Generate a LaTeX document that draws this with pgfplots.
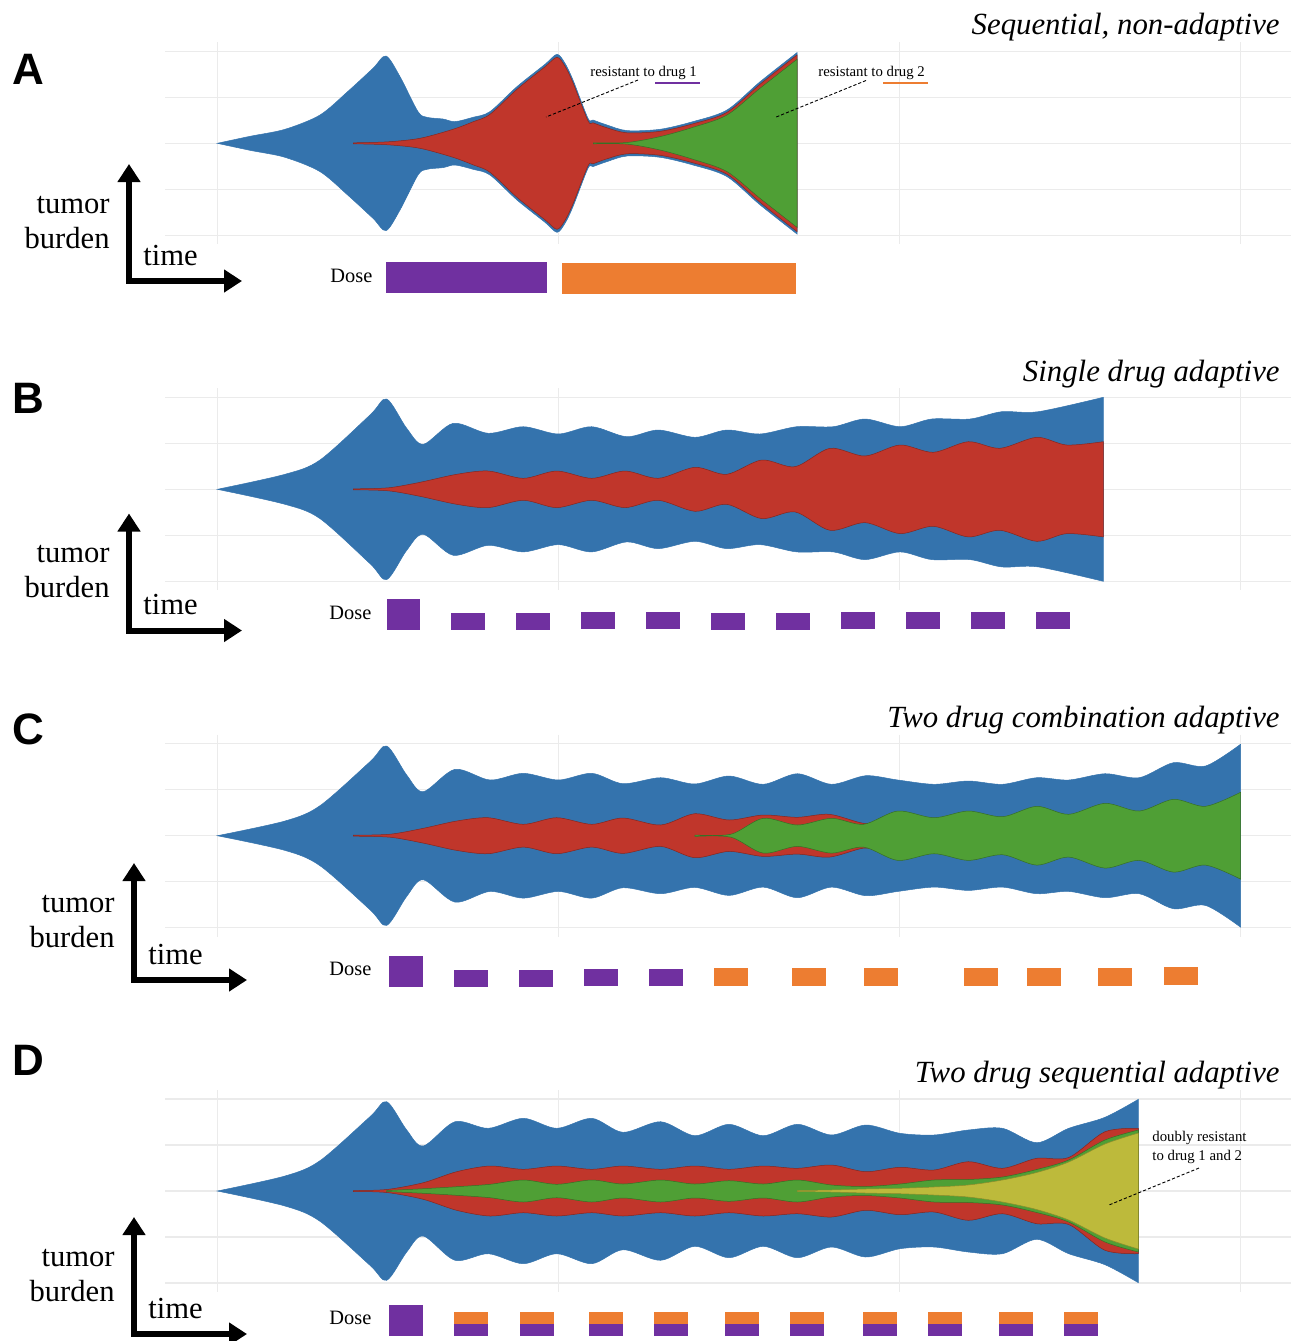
\documentclass[border=0pt]{standalone}
\usepackage{fontspec}
\setmainfont{Liberation Serif}
\newfontfamily\lsans{Liberation Sans}
\usepackage{pgfplots}
\pgfplotsset{compat=1.18}
\usepackage{pgfplotstable}
\usepgfplotslibrary{fillbetween}
\usetikzlibrary{arrows.meta}

\definecolor{fishblue}{HTML}{3473AD}
\definecolor{fishred}{HTML}{C0362B}
\definecolor{fishgreen}{HTML}{4F9F35}
\definecolor{fishyellow}{HTML}{BDBA3B}
\definecolor{dpurple}{HTML}{7030A0}
\definecolor{dorange}{HTML}{ED7D31}
\definecolor{gridc}{HTML}{EBEBEB}

% ---------- grid (relative to panel centre) ----------
\pgfplotstableread{
x y
165 -92
1291 -92
nan nan
165 -46
1291 -46
nan nan
165 0
1291 0
nan nan
165 46
1291 46
nan nan
165 92
1291 92
nan nan
217.3 -101
217.3 101
nan nan
558.5 -101
558.5 101
nan nan
899.5 -101
899.5 101
nan nan
1240.5 -101
1240.5 101
}\gridtab

% ---------- Panel A ----------
\pgfplotstableread{
x h
217.3 0
250 7
285 14
320 28.3
348 52
373 75
386 87.3
400 66.7
418 31.7
427 26
443 24.3
455 21.7
473 26
490 31.7
517 56.7
545 79
557 89
565 80
573 63.3
588 25
593 23.3
607 18.3
627 12.7
660 14
693 21.7
727 33.3
760 61.5
797 90.7
}\Ablue
\pgfplotstableread{
x h
353.3 0.5
388 1.5
420 5
453 14
473 21.5
490 29
517 54
545 76.5
557 86
565 77
573 60.5
588 22.5
593 20.5
607 15.5
627 10.5
660 12
693 19.5
727 31
760 59
797 88.3
}\Ared
\pgfplotstableread{
x h
593.3 0.5
627 0.8
660 6.7
693 16
727 28.3
760 55
797 84
}\Agreen

% ---------- Panel B ----------
\pgfplotstableread{
x h
217.3 0
285 15
320 29.3
370 74.3
386.7 90.3
406.7 61
423.3 45
453.3 66
488.3 56
523.3 62.6
558.3 55.3
591.7 62.6
626.7 52.6
658.3 59.3
695 52
726.7 59.3
760 55.3
796.7 62.6
833.3 62.6
865 70.3
900 62.6
931.7 70.3
970 70.3
1001.7 77.6
1038.3 77.6
1103.3 92
}\Bblue
\pgfplotstableread{
x h
353.3 0.5
388.3 1.5
420 7
456.7 15
488.3 18.3
523.3 11
556.7 18.3
591.7 11
625 18.3
658.3 11
695 22
726.7 15
761.7 29.3
795 22.6
830 41
865 33.3
900 44.3
933.3 37
968.3 47.6
1000 41
1036.7 52
1066.7 44.3
1103.3 47.6
}\Bred

% ---------- Panel C ----------
\pgfplotstableread{
x h
217.3 0
285 14.7
320 30
370 74
386.7 89.7
406.7 60.7
423.3 44
455 66.4
490 55.7
523.3 62.4
558.3 55.7
591.7 62.4
623 52
660.6 58
694.8 51.7
729 59.7
763.2 51.4
797.4 62
831.5 51.4
865.7 60
897.8 55.7
934 51.4
968.3 54.7
1002.5 51.4
1036.7 58
1068.7 55.7
1105 62
1139.2 58
1173.4 73
1205.5 69.7
1240.5 91.4
}\Cblue
\pgfplotstableread{
x h
353.3 0.5
390 1.5
423.3 7.4
456.7 14.7
488.3 18
523.3 11.4
556.7 18
591.7 11.4
623 17.7
660.6 10.7
694.8 22
729 15.7
763.2 20.7
797.4 18.4
829.4 21.4
863.6 12.4
880 16
897.8 23.5
}\Cred
\pgfplotstableread{
x h
694.8 0.7
731 1.5
763.2 17.4
797.4 10.7
831.5 17.4
863.6 11.4
897.8 24.7
934 18
968.3 24.7
1002.5 19
1036.7 29.4
1068.7 21.4
1105 32.4
1139.2 24.7
1173.4 36.4
1205.5 29.4
1240.5 43.4
}\Cgreen

% ---------- Panel D ----------
\pgfplotstableread{
x h
217.3 0
285 15
320 30.3
370 74.3
386.7 89.3
406.7 61
423.3 45
455 69.3
488.3 62.7
523.3 72.7
556.7 62.7
591.7 72.7
623 58.7
660.6 69.3
694.8 55.3
729 66.7
763.2 55.3
797.4 66.7
831.5 56
865.7 66
900 57.7
934 56
968.3 61
1002.5 62.7
1036.7 48.3
1068.7 62.7
1105 73.7
1138.4 91.7
}\Dblue
\pgfplotstableread{
x h
353.3 0.5
386.7 1.5
423.3 8.3
456.7 19.3
490 25
523.3 21.7
556.7 25
591.7 21.7
623 25
660.6 21.7
694.8 25
729 21.7
763.2 25
797.4 22.7
831.5 26
865.7 19.3
900 23.7
934 21
968.3 29.3
1002.5 22.7
1036.7 32.7
1068.7 33.5
1105 59.3
1138.4 62.7
}\Dred
\pgfplotstableread{
x h
386.7 0.5
423.3 2.3
456.7 4.3
490 6.7
523.3 11
556.7 6.7
591.7 11
623 7
660.6 11
694.8 7
729 10.3
763.2 7
797.4 11
831.5 6
865.7 4.5
900 7
934 11
968.3 11.5
1002.5 14
1036.7 21.5
1068.7 31
1105 51
1138.4 61
}\Dgreen
\pgfplotstableread{
x h
797.4 0.5
831.5 1
865.7 2
900 2.7
934 4
968.3 6
1002.5 11
1036.7 18.5
1068.7 29
1105 47
1138.4 58
}\Dyellow

% #1 table, #2 colour, #3 centre, #4 unique name, #5 edge colour
\newcommand{\fish}[5]{%
  \addplot[name path=#4t, draw=none, smooth, tension=0.5] table[x=x, y expr=#3-\thisrow{h}] {#1};
  \addplot[name path=#4b, draw=none, smooth, tension=0.5] table[x=x, y expr=#3+\thisrow{h}] {#1};
  \addplot[fill=#2, draw=#5, line width=0.25pt] fill between[of=#4t and #4b];
}
\newcommand{\gridat}[1]{%
  \addplot[gridc, line width=0.75pt, unbounded coords=jump, on layer=axis background] table[x=x, y expr=#1+\thisrow{y}] {\gridtab};
}
\newcommand{\dosebar}[5]{%
  \addplot[fill=#5, draw=none] coordinates {(#1,#3) (#2,#3) (#2,#4) (#1,#4)} -- cycle;
}
\tikzset{
  lab/.style={inner sep=0pt, font=\fontsize{15.3}{18}\selectfont},
  ttl/.style={inner sep=0pt, anchor=base east, font=\fontsize{15.4}{18}\selectfont\itshape},
  letter/.style={inner sep=0pt, anchor=base west, font=\lsans\bfseries\fontsize{22}{24}\selectfont},
  dose/.style={inner sep=0pt, anchor=base west, font=\fontsize{10.2}{12}\selectfont},
  ann/.style={inner sep=0pt, anchor=base west, font=\fontsize{7.4}{9}\selectfont},
}
\pgfplotsset{burdenarrow/.style={black, line width=3pt, line join=miter,
  {Triangle[width=11pt,length=9pt]}-{Triangle[width=11pt,length=9pt]}}}

\begin{document}
\begin{tikzpicture}
\begin{axis}[at={(0,0)}, anchor=origin, x=0.5pt, y=0.5pt, y dir=reverse,
  xmin=0, xmax=1292, ymin=0, ymax=1341, hide axis, clip=false, set layers=standard]

% grids
\gridat{143.3}
\gridat{489.3}
\gridat{835.7}
\gridat{1191}

% Panel A fish
\fish{\Ablue}{fishblue}{143.3}{ab}{fishblue}
\fish{\Ared}{fishred}{143.3}{ar}{fishred!70!black}
\fish{\Agreen}{fishgreen}{143.3}{ag}{fishgreen!70!black}
% Panel B fish
\fish{\Bblue}{fishblue}{489.3}{bb}{fishblue}
\fish{\Bred}{fishred}{489.3}{br}{fishred!70!black}
% Panel C fish
\fish{\Cblue}{fishblue}{835.7}{cb}{fishblue}
\fish{\Cred}{fishred}{835.7}{cr}{fishred!70!black}
\fish{\Cgreen}{fishgreen}{835.7}{cg}{fishgreen!70!black}
% Panel D fish
\fish{\Dblue}{fishblue}{1191}{db}{fishblue}
\fish{\Dred}{fishred}{1191}{dr}{fishred!70!black}
\fish{\Dgreen}{fishgreen}{1191}{dg}{fishgreen!70!black}
\fish{\Dyellow}{fishyellow}{1191}{dy}{fishyellow!75!black}

% annotations A
\addplot[black, line width=0.45pt, dash pattern=on 1.6pt off 1pt] coordinates {(638,80) (546,117)};
\addplot[black, line width=0.45pt, dash pattern=on 1.6pt off 1pt] coordinates {(866,80.5) (775,117.5)};
\addplot[dpurple, line width=1pt] coordinates {(655,82.7) (700,82.7)};
\addplot[dorange, line width=1pt] coordinates {(883,82.7) (928,82.7)};
\node[ann] at (axis cs:590,76) {resistant to drug 1};
\node[ann] at (axis cs:818,76) {resistant to drug 2};
% annotation D
\addplot[black, line width=0.45pt, dash pattern=on 1.6pt off 1pt] coordinates {(1199,1168) (1109,1205)};
\node[ann] at (axis cs:1152,1141) {doubly resistant};
\node[ann] at (axis cs:1152,1160) {to drug 1 and 2};

% titles and letters
\node[ttl] at (axis cs:1280,34) {Sequential, non-adaptive};
\node[ttl] at (axis cs:1280,381) {Single drug adaptive};
\node[ttl] at (axis cs:1280,727) {Two drug combination adaptive};
\node[ttl] at (axis cs:1280,1082) {Two drug sequential adaptive};
\node[letter] at (axis cs:12,84) {A};
\node[letter] at (axis cs:12,413.5) {B};
\node[letter] at (axis cs:12,744.5) {C};
\node[letter] at (axis cs:12,1075) {D};

% tumor burden / time arrows
\addplot[burdenarrow] coordinates {(129,164) (129,281) (242,281)};
\node[lab, anchor=base east] at (axis cs:110,213) {tumor};
\node[lab, anchor=base east] at (axis cs:110,248) {burden};
\node[lab, anchor=base west] at (axis cs:143,265) {time};

\addplot[burdenarrow] coordinates {(129,513.5) (129,630.5) (242,630.5)};
\node[lab, anchor=base east] at (axis cs:110,562.5) {tumor};
\node[lab, anchor=base east] at (axis cs:110,597.5) {burden};
\node[lab, anchor=base west] at (axis cs:143,614.5) {time};

\addplot[burdenarrow] coordinates {(134,863) (134,980) (247,980)};
\node[lab, anchor=base east] at (axis cs:115,912) {tumor};
\node[lab, anchor=base east] at (axis cs:115,947) {burden};
\node[lab, anchor=base west] at (axis cs:148,964) {time};

\addplot[burdenarrow] coordinates {(134,1217) (134,1334) (247,1334)};
\node[lab, anchor=base east] at (axis cs:115,1266) {tumor};
\node[lab, anchor=base east] at (axis cs:115,1301) {burden};
\node[lab, anchor=base west] at (axis cs:148,1318) {time};

% Dose A
\node[dose] at (axis cs:330,282) {Dose};
\dosebar{386}{547}{262}{293}{dpurple}
\dosebar{562}{796}{263}{294}{dorange}

% Dose B
\node[dose] at (axis cs:329,619) {Dose};
\dosebar{386.5}{420}{599}{630}{dpurple}
\dosebar{451}{485}{613}{630}{dpurple}
\dosebar{516}{550}{613}{630}{dpurple}
\dosebar{581}{615}{612}{629}{dpurple}
\dosebar{646}{680}{612}{629}{dpurple}
\dosebar{711}{745}{613}{630}{dpurple}
\dosebar{776}{810}{613}{630}{dpurple}
\dosebar{841}{875}{612}{629}{dpurple}
\dosebar{906}{940}{612}{629}{dpurple}
\dosebar{971}{1005}{612}{629}{dpurple}
\dosebar{1036}{1070}{612}{629}{dpurple}

% Dose C
\node[dose] at (axis cs:329,975) {Dose};
\dosebar{389}{423}{956}{987}{dpurple}
\dosebar{453.5}{487.5}{970}{987}{dpurple}
\dosebar{518.5}{552.5}{970}{987}{dpurple}
\dosebar{583.5}{617.5}{969}{986}{dpurple}
\dosebar{648.5}{682.5}{969}{986}{dpurple}
\dosebar{713.5}{747.5}{968}{986}{dorange}
\dosebar{792}{826}{968}{986}{dorange}
\dosebar{864}{898}{968}{986}{dorange}
\dosebar{963.5}{997.5}{968}{986}{dorange}
\dosebar{1026.5}{1060.5}{968}{986}{dorange}
\dosebar{1098}{1132}{968}{986}{dorange}
\dosebar{1164}{1198}{967}{985}{dorange}

% Dose D
\node[dose] at (axis cs:329,1324) {Dose};
\dosebar{389}{423}{1305}{1336}{dpurple}
\dosebar{454}{488}{1312}{1324}{dorange}
\dosebar{454}{488}{1324}{1336}{dpurple}
\dosebar{519.5}{553.5}{1312}{1324}{dorange}
\dosebar{519.5}{553.5}{1324}{1336}{dpurple}
\dosebar{588.5}{622.5}{1312}{1324}{dorange}
\dosebar{588.5}{622.5}{1324}{1336}{dpurple}
\dosebar{653.5}{687.5}{1312}{1324}{dorange}
\dosebar{653.5}{687.5}{1324}{1336}{dpurple}
\dosebar{724.5}{758.5}{1312}{1324}{dorange}
\dosebar{724.5}{758.5}{1324}{1336}{dpurple}
\dosebar{789.5}{823.5}{1312}{1324}{dorange}
\dosebar{789.5}{823.5}{1324}{1336}{dpurple}
\dosebar{863}{897}{1312}{1324}{dorange}
\dosebar{863}{897}{1324}{1336}{dpurple}
\dosebar{928}{962}{1312}{1324}{dorange}
\dosebar{928}{962}{1324}{1336}{dpurple}
\dosebar{999}{1033}{1312}{1324}{dorange}
\dosebar{999}{1033}{1324}{1336}{dpurple}
\dosebar{1064}{1098}{1312}{1324}{dorange}
\dosebar{1064}{1098}{1324}{1336}{dpurple}

\end{axis}
\pgfresetboundingbox
\useasboundingbox (0,0) rectangle (646pt,-670.5pt);
\end{tikzpicture}
\end{document}
